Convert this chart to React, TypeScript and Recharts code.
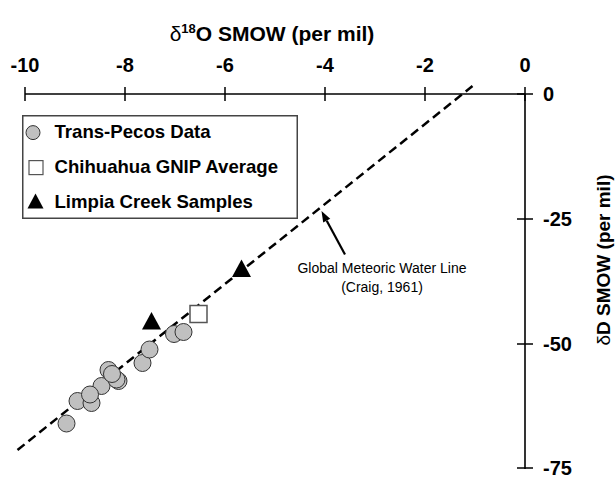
import { Legend, ReferenceLine, Scatter, ScatterChart, XAxis, YAxis } from 'recharts';

const font = '"Liberation Sans", Arial, sans-serif';

// d18O / dD values (per mil, SMOW)
const transO = [-9.17, -8.95, -8.67, -8.47, -8.70, -8.13, -8.17, -8.33, -8.26, -7.65, -7.51, -7.02, -6.83];
const transD = [-65.9, -61.4, -61.8, -58.4, -60.1, -57.4, -57.1, -55.2, -56.0, -53.8, -51.1, -48.0, -47.6];
const gnipO = [-6.53];
const gnipD = [-44.0];
const limpiaO = [-7.47, -5.67];
const limpiaD = [-45.4, -34.9];

// meteoric water line end points, and the arrow pointing at it
const gmwlO = [-10.15, -1.05];
const gmwlD = [-71.2, 1.6];
const arrowO = [-3.6, -4.07];
const arrowD = [-32.1, -23.4];

const xTicks = [-10, -8, -6, -4, -2, 0];
const yTicks = [0, -25, -50, -75];

const legendItems = ['Trans-Pecos Data', 'Chihuahua GNIP Average', 'Limpia Creek Samples'];

const toPoints = (xs: number[], ys: number[]) => xs.map((x, i) => ({ x, y: ys[i] }));

const transData = toPoints(transO, transD);
const gnipData = toPoints(gnipO, gnipD);
const limpiaData = toPoints(limpiaO, limpiaD);

const Circle = (p: any) => <circle cx={p.cx} cy={p.cy} r={8.5} fill="#c0c0c0" stroke="#333" strokeWidth={1} />;
const Square = (p: any) => (
  <rect x={p.cx - 8.5} y={p.cy - 8.5} width={17} height={17} fill="#fff" stroke="#555" strokeWidth={1.5} />
);
const Triangle = (p: any) => (
  <polygon points={`${p.cx},${p.cy - 9} ${p.cx + 9.5},${p.cy + 8.5} ${p.cx - 9.5},${p.cy + 8.5}`} fill="#000" />
);

const XTick = (p: any) => (
  <g>
    <line x1={p.x} x2={p.x} y1={p.y - 7} y2={p.y + 7} stroke="#000" strokeWidth={1.5} />
    <text x={p.x} y={p.y - 22.5} textAnchor="middle" fontFamily={font} fontWeight="bold" fontSize={20} fill="#000">
      {p.payload.value}
    </text>
  </g>
);

const YTick = (p: any) => (
  <g>
    <line x1={p.x - 8} x2={p.x + 8} y1={p.y} y2={p.y} stroke="#000" strokeWidth={1.5} />
    <text x={p.x + 18} y={p.y + 7} textAnchor="start" fontFamily={font} fontWeight="bold" fontSize={20} fill="#000">
      {p.payload.value}
    </text>
  </g>
);

const xTitle = (p: any) => {
  const vb = p.viewBox;
  return (
    <text x={vb.x + vb.width / 2 - 3} y={vb.y + 7} textAnchor="middle" fontFamily={font} fontWeight="bold" fontSize={21} fill="#000">
      <tspan fontWeight="normal">δ</tspan>
      <tspan dy={-8} fontSize={13}>18</tspan>
      <tspan dy={8}>O SMOW (per mil)</tspan>
    </text>
  );
};

const yTitle = (p: any) => {
  const vb = p.viewBox;
  const cx = vb.x + 84.5;
  const cy = vb.y + vb.height / 2 - 21.5;
  return (
    <text x={cx} y={cy} transform={`rotate(-90 ${cx} ${cy})`} textAnchor="middle" fontFamily={font} fontWeight="bold" fontSize={19} fill="#000">
      <tspan fontWeight="normal">δ</tspan>D SMOW (per mil)
    </text>
  );
};

const Arrow = (p: any) => {
  const { x1, y1, x2, y2 } = p;
  const a = Math.atan2(y2 - y1, x2 - x1);
  const len = 11;
  const w = 4;
  const bx = x2 - len * Math.cos(a);
  const by = y2 - len * Math.sin(a);
  const nx = -Math.sin(a) * w;
  const ny = Math.cos(a) * w;
  return (
    <g>
      <line x1={x1} y1={y1} x2={bx} y2={by} stroke="#000" strokeWidth={2.2} />
      <polygon points={`${x2},${y2} ${bx + nx},${by + ny} ${bx - nx},${by - ny}`} fill="#000" />
      <text x={x1 + 37} y={y1 + 18} textAnchor="middle" fontFamily={font} fontSize={14} fill="#000">
        Global Meteoric Water Line
      </text>
      <text x={x1 + 37} y={y1 + 37} textAnchor="middle" fontFamily={font} fontSize={14} fill="#000">
        (Craig, 1961)
      </text>
    </g>
  );
};

const LegendBox = () => (
  <svg width={276} height={104} style={{ display: 'block' }}>
    <rect x={0.75} y={0.75} width={274.5} height={102.5} fill="#fff" stroke="#444" strokeWidth={1.5} />
    <circle cx={11} cy={17.6} r={7} fill="#c0c0c0" stroke="#333" strokeWidth={1} />
    <rect x={7} y={45.6} width={14} height={14} fill="#fff" stroke="#555" strokeWidth={1.2} />
    <polygon points="13.5,78.5 21.5,93.5 5.5,93.5" fill="#000" />
    {legendItems.map((t, i) => (
      <text key={t} x={32.5} y={23.3 + i * 35} fontFamily={font} fontWeight="bold" fontSize={18.6} fill="#000">
        {t}
      </text>
    ))}
  </svg>
);

export default function App() {
  return (
    <div style={{ position: 'absolute', left: 0, top: 0, background: '#fff' }}>
      <ScatterChart width={616} height={477} margin={{ top: 34, right: 11, bottom: 8, left: 25 }}>
        <XAxis
          type="number"
          dataKey="x"
          orientation="top"
          height={60}
          domain={[-10, 0]}
          ticks={xTicks}
          tickSize={0}
          tickMargin={0}
          tickLine={false}
          tick={XTick}
          axisLine={{ stroke: '#000', strokeWidth: 1.6 }}
          label={xTitle}
        />
        <YAxis
          type="number"
          dataKey="y"
          orientation="right"
          width={80}
          domain={[-75, 0]}
          ticks={yTicks}
          tickSize={0}
          tickMargin={0}
          tickLine={false}
          tick={YTick}
          axisLine={{ stroke: '#000', strokeWidth: 1.6 }}
          label={yTitle}
        />
        <ReferenceLine
          segment={[
            { x: gmwlO[0], y: gmwlD[0] },
            { x: gmwlO[1], y: gmwlD[1] },
          ]}
          stroke="#000"
          strokeWidth={2.5}
          strokeDasharray="9 5"
          ifOverflow="visible"
        />
        <ReferenceLine
          segment={[
            { x: arrowO[0], y: arrowD[0] },
            { x: arrowO[1], y: arrowD[1] },
          ]}
          shape={Arrow}
          ifOverflow="visible"
        />
        <Scatter name="Trans-Pecos Data" data={transData} shape={Circle} isAnimationActive={false} />
        <Scatter name="Chihuahua GNIP Average" data={gnipData} shape={Square} isAnimationActive={false} />
        <Scatter name="Limpia Creek Samples" data={limpiaData} shape={Triangle} isAnimationActive={false} />
        <Legend
          layout="vertical"
          align="center"
          verticalAlign="middle"
          content={LegendBox}
          wrapperStyle={{ left: 22, top: 115, width: 276, height: 104 }}
        />
      </ScatterChart>
    </div>
  );
}
